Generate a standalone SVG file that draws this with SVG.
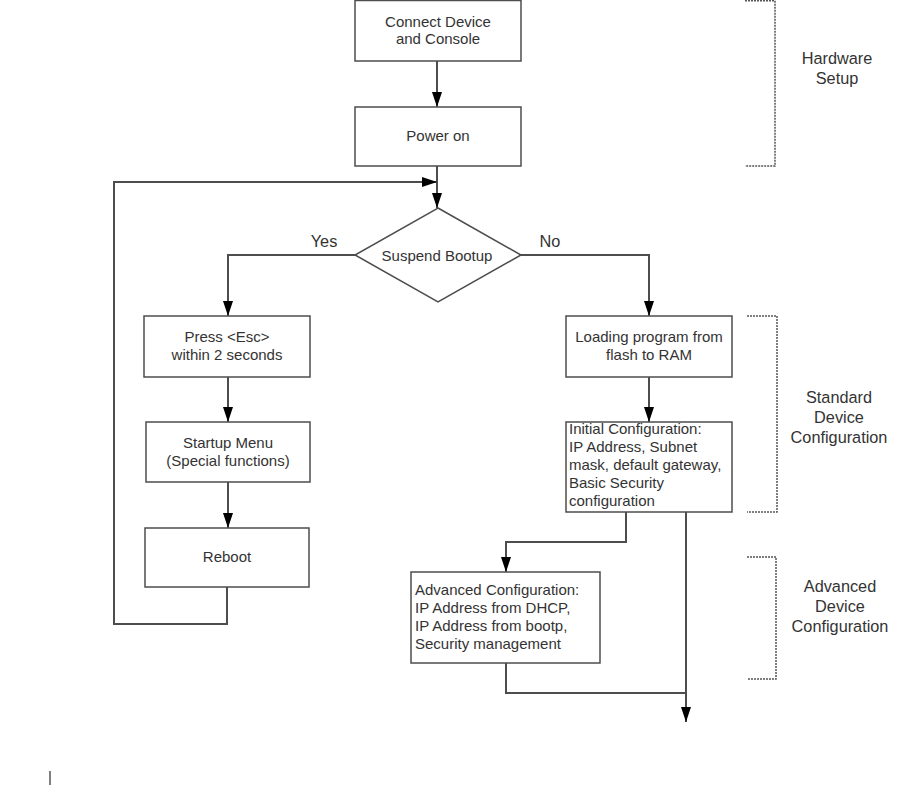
<svg xmlns="http://www.w3.org/2000/svg" width="900" height="786" viewBox="0 0 900 786">
<style>
.box{fill:#fff;stroke:#4d4d4d;stroke-width:1.5}
.t{font-family:"Liberation Sans",Arial,sans-serif;font-size:15px;fill:#333}
.c{text-anchor:middle}
.lbl{font-family:"Liberation Sans",Arial,sans-serif;font-size:16.3px;fill:#333;text-anchor:middle}
.ln{fill:none;stroke:#4d4d4d;stroke-width:2}
.br{fill:none;stroke:#555;stroke-width:1.5;stroke-dasharray:2 1}
</style>
<defs>
<marker id="ah" markerUnits="userSpaceOnUse" markerWidth="15" markerHeight="10" refX="15" refY="5" orient="auto">
<path d="M0,0 L15,5 L0,10 Z" fill="#000"/>
</marker>
</defs>
<rect width="900" height="786" fill="#fff"/>
<g id="connectors">
<path class="ln" d="M437,61 V107" marker-end="url(#ah)"/>
<path class="ln" d="M437,166 V208" marker-end="url(#ah)"/>
<path class="ln" d="M227,587 V624 H114 V182 H437" marker-end="url(#ah)"/>
<path class="ln" d="M355,255 H228 V316" marker-end="url(#ah)"/>
<path class="ln" d="M228,377 V422" marker-end="url(#ah)"/>
<path class="ln" d="M228,482 V528" marker-end="url(#ah)"/>
<path class="ln" d="M521,255 H649 V316" marker-end="url(#ah)"/>
<path class="ln" d="M649,377 V422" marker-end="url(#ah)"/>
<path class="ln" d="M626,512 V542 H506 V572" marker-end="url(#ah)"/>
<path class="ln" d="M506,663 V693 H686"/>
<path class="ln" d="M686,512 V722" marker-end="url(#ah)"/>
<text class="lbl" x="324" y="247">Yes</text>
<text class="lbl" x="550" y="247">No</text>
</g>
<g id="connect">
<rect class="box" x="355" y="0.5" width="166" height="60.5"/>
<text class="t c" x="438" y="27">Connect Device</text>
<text class="t c" x="438" y="44">and Console</text>
</g>
<g id="poweron">
<rect class="box" x="355" y="107" width="166" height="59"/>
<text class="t c" x="438" y="141">Power on</text>
</g>
<g id="suspend">
<polygon class="box" points="438,208 521,255 438,302 355,255"/>
<text class="t c" x="437" y="261">Suspend Bootup</text>
</g>
<g id="press">
<rect class="box" x="144" y="316" width="166" height="61"/>
<text class="t c" x="227" y="342">Press &lt;Esc&gt;</text>
<text class="t c" x="227" y="360">within 2 seconds</text>
</g>
<g id="startup">
<rect class="box" x="146" y="422" width="164" height="60"/>
<text class="t c" x="228" y="448">Startup Menu</text>
<text class="t c" x="228" y="466">(Special functions)</text>
</g>
<g id="reboot">
<rect class="box" x="145" y="528" width="164" height="59"/>
<text class="t c" x="227" y="562">Reboot</text>
</g>
<g id="loading">
<rect class="box" x="566" y="316" width="166" height="61"/>
<text class="t c" x="649" y="342">Loading program from</text>
<text class="t c" x="649" y="360">flash to RAM</text>
</g>
<g id="initial">
<rect class="box" x="566" y="422" width="166" height="90"/>
<text class="t" x="569" y="434">Initial Configuration:</text>
<text class="t" x="569" y="452">IP Address, Subnet</text>
<text class="t" x="569" y="470">mask, default gateway,</text>
<text class="t" x="569" y="488">Basic Security</text>
<text class="t" x="569" y="506">configuration</text>
</g>
<g id="advanced">
<rect class="box" x="411" y="572" width="189" height="91"/>
<text class="t" x="415" y="595">Advanced Configuration:</text>
<text class="t" x="415" y="613">IP Address from DHCP,</text>
<text class="t" x="415" y="631">IP Address from bootp,</text>
<text class="t" x="415" y="649">Security management</text>
</g>
<g id="hardware-bracket">
<path class="br" d="M745,0.8 H775 V166 H745"/>
<text class="lbl" x="837" y="64">Hardware</text>
<text class="lbl" x="837" y="84">Setup</text>
</g>
<g id="standard-bracket">
<path class="br" d="M747,316 H777 V512 H747"/>
<text class="lbl" x="839" y="403">Standard</text>
<text class="lbl" x="839" y="423">Device</text>
<text class="lbl" x="839" y="443">Configuration</text>
</g>
<g id="advanced-bracket">
<path class="br" d="M747,557 H776 V679 H747"/>
<text class="lbl" x="840" y="592">Advanced</text>
<text class="lbl" x="840" y="612">Device</text>
<text class="lbl" x="840" y="632">Configuration</text>
</g>
<line x1="50" y1="771" x2="50" y2="785" stroke="#000" stroke-width="1"/>
</svg>
